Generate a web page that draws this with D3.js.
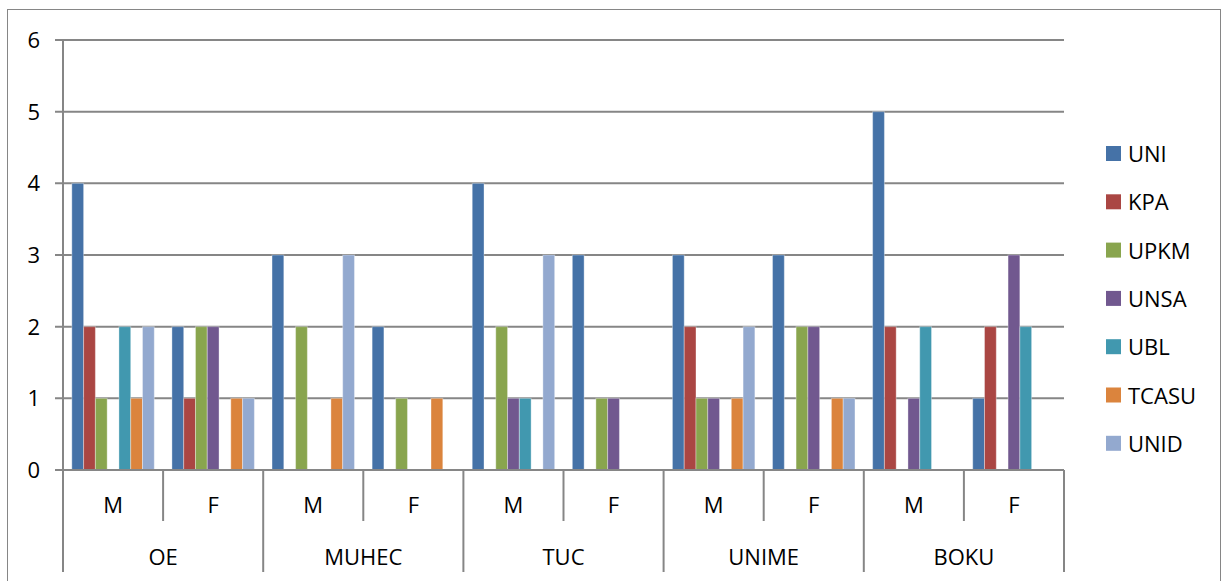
<!DOCTYPE html>
<html>
<head>
<meta charset="utf-8">
<script src="https://cdn.jsdelivr.net/npm/d3@7"></script>
<style>
  body { margin: 0; background: #fff; }
  text { font-family: "Open Sans", sans-serif; fill: #000; }
</style>
</head>
<body>
<div id="chart"></div>
<script>
// data
const groups = ["OE", "MUHEC", "TUC", "UNIME", "BOKU"];
const genders = ["M", "F"];
const seriesNames = ["UNI", "KPA", "UPKM", "UNSA", "UBL", "TCASU", "UNID"];
const colors = ["#4572A7", "#AA4643", "#89A54E", "#71588F", "#4198AF", "#DB843D", "#93A9CF"];
// values per subgroup: OE M, OE F, MUHEC M, MUHEC F, TUC M, TUC F, UNIME M, UNIME F, BOKU M, BOKU F
const UNI   = [4, 2, 3, 2, 4, 3, 3, 3, 5, 1];
const KPA   = [2, 1, 0, 0, 0, 0, 2, 0, 2, 2];
const UPKM  = [1, 2, 2, 1, 2, 1, 1, 2, 0, 0];
const UNSA  = [0, 2, 0, 0, 1, 1, 1, 2, 1, 3];
const UBL   = [2, 0, 0, 0, 1, 0, 0, 0, 2, 2];
const TCASU = [1, 1, 1, 1, 0, 0, 1, 1, 0, 0];
const UNID  = [2, 1, 3, 0, 3, 0, 2, 1, 0, 0];
const yTicks = [0, 1, 2, 3, 4, 5, 6];

const allValues = [UNI, KPA, UPKM, UNSA, UBL, TCASU, UNID];

var width = 1226;
var height = 581;
var plotLeft = 63, plotRight = 1064, plotTop = 40, plotBottom = 470;
var gridColor = "#868686";
var fontSize = "22px";

var svg = d3.select("#chart")
  .append("svg")
  .attr("width", width)
  .attr("height", height);

// outer border
svg.append("rect")
  .attr("x", 7.5).attr("y", 9.5)
  .attr("width", 1213).attr("height", 590)
  .attr("fill", "none")
  .attr("stroke", "#868686")
  .attr("stroke-width", 1);

/* Scales */
var subKeys = [];
groups.forEach(g => genders.forEach(s => subKeys.push(g + "|" + s)));

var x0 = d3.scaleBand().domain(subKeys).range([plotLeft, plotRight]);
var x1 = d3.scaleBand().domain(seriesNames)
  .range([0, x0.bandwidth()])
  .paddingInner(0).paddingOuter(0.75);
var y = d3.scaleLinear().domain([0, 6]).range([plotBottom, plotTop]);

/* Gridlines and y labels */
svg.append("g")
  .selectAll("line")
  .data(yTicks)
  .enter()
  .append("line")
  .attr("x1", plotLeft - 8)
  .attr("x2", plotRight)
  .attr("y1", d => y(d))
  .attr("y2", d => y(d))
  .attr("stroke", gridColor)
  .attr("stroke-width", 2);

svg.append("g")
  .selectAll("text")
  .data(yTicks)
  .enter()
  .append("text")
  .attr("x", 40)
  .attr("y", d => y(d) + 8)
  .attr("text-anchor", "end")
  .style("font-size", fontSize)
  .text(d => d);

/* Bars */
var bars = svg.append("g");
seriesNames.forEach((name, si) => {
  var vals = allValues[si];
  bars.append("g")
    .attr("fill", colors[si])
    .selectAll("rect")
    .data(vals.map((v, i) => ({ key: subKeys[i], v: v })).filter(d => d.v > 0))
    .enter()
    .append("rect")
    .attr("x", d => x0(d.key) + x1(name))
    .attr("y", d => y(d.v))
    .attr("width", x1.bandwidth())
    .attr("height", d => y(0) - y(d.v))
    .attr("stroke", "rgba(255,255,255,0.35)")
    .attr("stroke-width", 1);
});

/* Axis lines */
svg.append("line")
  .attr("x1", plotLeft).attr("x2", plotLeft)
  .attr("y1", plotTop).attr("y2", 572)
  .attr("stroke", gridColor).attr("stroke-width", 2);

svg.append("line")
  .attr("x1", plotLeft).attr("x2", plotRight)
  .attr("y1", plotBottom).attr("y2", plotBottom)
  .attr("stroke", gridColor).attr("stroke-width", 2);

// subgroup dividers
svg.append("g")
  .selectAll("line")
  .data(subKeys.slice(1).concat(["end"]))
  .enter()
  .append("line")
  .attr("x1", d => d === "end" ? plotRight : x0(d))
  .attr("x2", d => d === "end" ? plotRight : x0(d))
  .attr("y1", plotBottom)
  .attr("y2", d => (d === "end" || d.endsWith("|M")) ? 572 : 521)
  .attr("stroke", gridColor)
  .attr("stroke-width", 2);

// gender labels
svg.append("g")
  .selectAll("text")
  .data(subKeys)
  .enter()
  .append("text")
  .attr("x", d => x0(d) + x0.bandwidth() / 2)
  .attr("y", 513)
  .attr("text-anchor", "middle")
  .style("font-size", fontSize)
  .text(d => d.split("|")[1]);

// group labels
svg.append("g")
  .selectAll("text")
  .data(groups)
  .enter()
  .append("text")
  .attr("x", g => x0(g + "|M") + x0.bandwidth())
  .attr("y", 565)
  .attr("text-anchor", "middle")
  .style("font-size", fontSize)
  .text(g => g);

/* Legend */
var legend = svg.append("g")
  .selectAll("g")
  .data(seriesNames)
  .enter()
  .append("g")
  .attr("transform", (d, i) => `translate(1106, ${146 + i * 48.3})`);

legend.append("rect")
  .attr("width", 15).attr("height", 15)
  .attr("fill", (d, i) => colors[i]);

legend.append("text")
  .attr("x", 22)
  .attr("y", 16)
  .style("font-size", fontSize)
  .text(d => d);
</script>
</body>
</html>
